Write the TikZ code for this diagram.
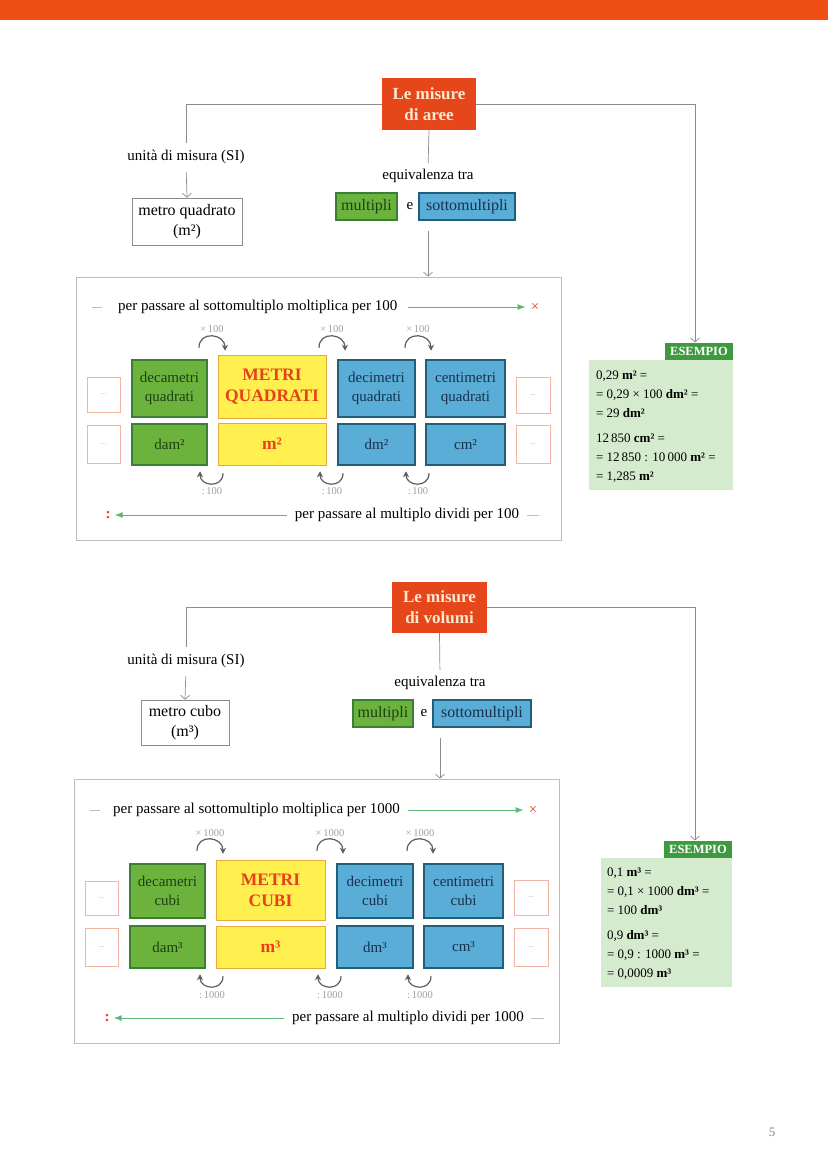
\documentclass[tikz,border=0pt]{standalone}
\usepackage{fontspec}
\setmainfont{Liberation Serif}
\usetikzlibrary{arrows.meta}
\definecolor{orangebar}{HTML}{EF4F14}
\definecolor{titlered}{HTML}{E6471A}
\definecolor{titletext}{HTML}{FCE8CF}
\definecolor{greenfill}{HTML}{6CB33E}
\definecolor{greenline}{HTML}{3B7F35}
\definecolor{greentext}{HTML}{1E3F14}
\definecolor{yellowfill}{HTML}{FFEF4F}
\definecolor{yellowline}{HTML}{E7A93A}
\definecolor{redtext}{HTML}{E8401C}
\definecolor{bluefill}{HTML}{5AADD6}
\definecolor{blueline}{HTML}{1F5F78}
\definecolor{bluetext}{HTML}{18304D}
\definecolor{dotline}{HTML}{F0B5A0}
\definecolor{linegray}{HTML}{8C8C8C}
\definecolor{boxgray}{HTML}{B8BEC4}
\definecolor{arrowgreen}{HTML}{5CB87A}
\definecolor{esgreen}{HTML}{3E9A3F}
\definecolor{exfill}{HTML}{D4ECCD}
\definecolor{labelgray}{HTML}{A0A0A0}
\definecolor{arcgray}{HTML}{5E5E5E}
\newcommand{\txt}{\fontsize{15}{19}\selectfont}
\newcommand{\bigtxt}{\fontsize{16}{20}\selectfont}

\begin{document}
\begin{tikzpicture}[x=1pt,y=1pt]
\tikzset{every node/.style={inner sep=0pt,align=center,font=\txt},
titlebox/.style={fill=titlered,text=titletext,font=\fontsize{17}{21}\selectfont\bfseries},
unitbox/.style={draw=linegray,line width=0.6pt,fill=white,font=\bigtxt},
multbox/.style={draw=greenline,fill=greenfill,text=greentext,line width=1.2pt},
yelbox/.style={draw=yellowline,fill=yellowfill,text=redtext,line width=0.8pt,font=\fontsize{17.5}{21}\selectfont\bfseries},
subbox/.style={draw=blueline,fill=bluefill,text=bluetext,line width=1.2pt},
dotbox/.style={draw=dotline,fill=white,line width=0.8pt,text=labelgray,font=\fontsize{7}{8}\selectfont},
mainbox/.style={draw=boxgray,line width=0.8pt},
estab/.style={fill=esgreen,text=white,font=\fontsize{12.5}{13}\selectfont\bfseries,minimum width=68,minimum height=17},
exbox/.style={fill=exfill},
extext/.style={align=left,font=\fontsize{13}{18.7}\selectfont},
oplabel/.style={text=labelgray,font=\fontsize{10.5}{11}\selectfont},
conn/.style={draw=linegray,line width=0.7pt},
arr/.style={conn,-{Straight Barb[length=4pt,width=9pt]}},
greenarr/.style={draw=arrowgreen,line width=0.9pt,-{Latex[length=8pt,width=6pt]}},
arcarr/.style={draw=arcgray,line width=1.2pt,-{Stealth[length=6pt,width=6pt]}}}

\useasboundingbox[fill=white] (0,0) rectangle (828,-1173);
\fill[orangebar] (0,0) rectangle (828,-20);

\node[mainbox,minimum width=485,minimum height=263] (main1) at (318.5,-408.5) {};
\node[titlebox,minimum width=94,minimum height=52] (t1) at (429,-104) {Le misure\\di aree};
\node (si1) at (186,-157) {unità di misura (SI)};
\node[unitbox,minimum width=110,minimum height=47] (mq1) at (187,-221.5) {metro quadrato\\(m²)};
\node (eq1) at (428,-176) {equivalenza tra};
\node[multbox,minimum width=61,minimum height=27,font=\bigtxt] (mu1) at (366.5,-206.5) {multipli};
\node (e1) at (410,-206) {e};
\node[subbox,minimum width=96,minimum height=27,font=\bigtxt] (sm1) at (467,-206.5) {sottomultipli};
\draw[conn,shorten >=7pt] (t1.west) -| (si1.north);
\draw[arr,shorten <=8pt] (si1.south) -- (mq1.north);
\draw[conn,shorten >=6pt] (t1.south) -- (eq1.north);
\draw[arr] ([yshift=-10pt]eq1.south |- sm1.south) -- (eq1.south |- main1.north);

\node[anchor=west] (pt1) at (118,-307) {per passare al sottomultiplo moltiplica per 100};
\node[text=redtext,font=\fontsize{15}{15}\selectfont] (x1) at (535,-307) {×};
\draw[conn,draw=boxgray] ([xshift=-26pt]pt1.west) -- ([xshift=-16pt]pt1.west);
\draw[greenarr] ([xshift=10pt]pt1.east) -- ([xshift=-5pt]x1.west);

\node[dotbox,minimum width=33,minimum height=35] (dla) at (103.5,-394.5) {...};
\node[multbox,minimum width=75,minimum height=57] (ga) at (169.5,-388.5) {decametri\\quadrati};
\node[yelbox,minimum width=108,minimum height=63] (ya) at (272,-386.5) {METRI\\QUADRATI};
\node[subbox,minimum width=77,minimum height=57] (ba) at (376.5,-388.5) {decimetri\\quadrati};
\node[subbox,minimum width=79,minimum height=57] (ca) at (465.5,-388.5) {centimetri\\quadrati};
\node[dotbox,minimum width=34,minimum height=36] (dra) at (533,-395) {...};
\node[dotbox,minimum width=33,minimum height=38] (dlb) at (103.5,-444) {...};
\node[multbox,minimum width=75,minimum height=41] (gb) at (169.5,-444.5) {dam²};
\node[yelbox,minimum width=108,minimum height=42] (yb) at (272,-444) {m²};
\node[subbox,minimum width=77,minimum height=41] (bb) at (376.5,-444.5) {dm²};
\node[subbox,minimum width=79,minimum height=41] (cb) at (465.5,-444.5) {cm²};
\node[dotbox,minimum width=34,minimum height=38] (drb) at (533,-444.5) {...};

\node[oplabel] (ma1) at (212,-329) {×\,100};
\node[oplabel] (ma2) at (332,-329) {×\,100};
\node[oplabel] (ma3) at (418,-329) {×\,100};
\draw[arcarr] ([shift={(-13,-15)}]ma1.south) to[out=90,in=90,looseness=1.7] ([shift={(13,-18)}]ma1.south);
\draw[arcarr] ([shift={(-13,-15)}]ma2.south) to[out=90,in=90,looseness=1.7] ([shift={(13,-18)}]ma2.south);
\draw[arcarr] ([shift={(-13,-15)}]ma3.south) to[out=90,in=90,looseness=1.7] ([shift={(13,-18)}]ma3.south);
\node[oplabel] (da1) at (212,-491) {:\,100};
\node[oplabel] (da2) at (332,-491) {:\,100};
\node[oplabel] (da3) at (418,-491) {:\,100};
\draw[arcarr] ([shift={(11,14)}]da1.north) to[out=-90,in=-90,looseness=1.7] ([shift={(-12,16)}]da1.north);
\draw[arcarr] ([shift={(11,14)}]da2.north) to[out=-90,in=-90,looseness=1.7] ([shift={(-12,16)}]da2.north);
\draw[arcarr] ([shift={(11,14)}]da3.north) to[out=-90,in=-90,looseness=1.7] ([shift={(-12,16)}]da3.north);

\node[text=redtext,font=\fontsize{15}{15}\selectfont\bfseries] (col1) at (108,-515) {:};
\node (pm1) at (407,-515) {per passare al multiplo dividi per 100};
\draw[greenarr] ([xshift=-8pt]pm1.west) -- ([xshift=4pt]col1.east);
\draw[conn,draw=boxgray] ([xshift=8pt]pm1.east) -- ([xshift=20pt]pm1.east);

\node[exbox,minimum width=144,minimum height=130] (ex1) at (661,-425) {};
\node[estab,anchor=south east] (es1) at (ex1.north east) {ESEMPIO};
\draw[arr] (t1.east) -| ([xshift=-4pt]es1.north);
\node[extext,anchor=north west] (et1) at ([shift={(7,-11)}]ex1.north west) {0,29 \textbf{m²} =\\= 0,29 × 100 \textbf{dm²} =\\= 29 \textbf{dm²}\\[7pt]12\,850 \textbf{cm²} =\\= 12\,850 : 10\,000 \textbf{m²} =\\= 1,285 \textbf{m²}};

\node[mainbox,minimum width=485,minimum height=264] (main2) at (316.5,-911) {};
\node[titlebox,minimum width=95,minimum height=51] (t2) at (439.5,-607.5) {Le misure\\di volumi};
\node (si2) at (186,-661) {unità di misura (SI)};
\node[unitbox,minimum width=88,minimum height=45] (mc2) at (185,-722.5) {metro cubo\\(m³)};
\node (eq2) at (440,-683) {equivalenza tra};
\node[multbox,minimum width=60,minimum height=27,font=\bigtxt] (mu2) at (383,-713.5) {multipli};
\node (e2) at (424,-713) {e};
\node[subbox,minimum width=98,minimum height=27,font=\bigtxt] (sm2) at (482,-713.5) {sottomultipli};
\draw[conn,shorten >=7pt] (t2.west) -| (si2.north);
\draw[arr,shorten <=8pt] (si2.south) -- (mc2.north);
\draw[conn,shorten >=6pt] (t2.south) -- (eq2.north);
\draw[arr] ([yshift=-10pt]eq2.south |- sm2.south) -- (eq2.south |- main2.north);

\node[anchor=west] (pt2) at (113,-810) {per passare al sottomultiplo moltiplica per 1000};
\node[text=redtext,font=\fontsize{15}{15}\selectfont] (x2) at (533,-810) {×};
\draw[conn,draw=boxgray] ([xshift=-23pt]pt2.west) -- ([xshift=-13pt]pt2.west);
\draw[greenarr] ([xshift=8pt]pt2.east) -- ([xshift=-5pt]x2.west);

\node[dotbox,minimum width=33,minimum height=34] (dlc) at (101.5,-898) {...};
\node[multbox,minimum width=75,minimum height=54] (gc) at (167.5,-891) {decametri\\cubi};
\node[yelbox,minimum width=109,minimum height=60] (yc) at (270.5,-890) {METRI\\CUBI};
\node[subbox,minimum width=76,minimum height=54] (bc) at (375,-891) {decimetri\\cubi};
\node[subbox,minimum width=79,minimum height=54] (cc) at (463.5,-891) {centimetri\\cubi};
\node[dotbox,minimum width=34,minimum height=35] (drc) at (531,-897.5) {...};
\node[dotbox,minimum width=33,minimum height=38] (dld) at (101.5,-947) {...};
\node[multbox,minimum width=75,minimum height=42] (gd) at (167.5,-947) {dam³};
\node[yelbox,minimum width=109,minimum height=42] (yd) at (270.5,-947) {m³};
\node[subbox,minimum width=76,minimum height=42] (bd) at (375,-947) {dm³};
\node[subbox,minimum width=79,minimum height=42] (cd) at (463.5,-947) {cm³};
\node[dotbox,minimum width=34,minimum height=38] (drd) at (531,-947) {...};

\node[oplabel] (mv1) at (210,-833) {×\,1000};
\node[oplabel] (mv2) at (330,-833) {×\,1000};
\node[oplabel] (mv3) at (420,-833) {×\,1000};
\draw[arcarr] ([shift={(-13,-14)}]mv1.south) to[out=90,in=90,looseness=1.7] ([shift={(13,-17)}]mv1.south);
\draw[arcarr] ([shift={(-13,-14)}]mv2.south) to[out=90,in=90,looseness=1.7] ([shift={(13,-17)}]mv2.south);
\draw[arcarr] ([shift={(-13,-14)}]mv3.south) to[out=90,in=90,looseness=1.7] ([shift={(13,-17)}]mv3.south);
\node[oplabel] (dv1) at (212,-995) {:\,1000};
\node[oplabel] (dv2) at (330,-995) {:\,1000};
\node[oplabel] (dv3) at (420,-995) {:\,1000};
\draw[arcarr] ([shift={(11,15)}]dv1.north) to[out=-90,in=-90,looseness=1.7] ([shift={(-12,17)}]dv1.north);
\draw[arcarr] ([shift={(11,15)}]dv2.north) to[out=-90,in=-90,looseness=1.7] ([shift={(-12,17)}]dv2.north);
\draw[arcarr] ([shift={(11,15)}]dv3.north) to[out=-90,in=-90,looseness=1.7] ([shift={(-12,17)}]dv3.north);

\node[text=redtext,font=\fontsize{15}{15}\selectfont\bfseries] (col2) at (107,-1018) {:};
\node (pm2) at (408,-1018) {per passare al multiplo dividi per 1000};
\draw[greenarr] ([xshift=-8pt]pm2.west) -- ([xshift=4pt]col2.east);
\draw[conn,draw=boxgray] ([xshift=7pt]pm2.east) -- ([xshift=20pt]pm2.east);

\node[exbox,minimum width=131,minimum height=129] (ex2) at (666.5,-922.5) {};
\node[estab,anchor=south east] (es2) at (ex2.north east) {ESEMPIO};
\draw[arr] (t2.east) -| ([xshift=-3pt]es2.north);
\node[extext,anchor=north west] (et2) at ([shift={(6,-10)}]ex2.north west) {0,1 \textbf{m³} =\\= 0,1 × 1000 \textbf{dm³} =\\= 100 \textbf{dm³}\\[7pt]0,9 \textbf{dm³} =\\= 0,9 : 1000 \textbf{m³} =\\= 0,0009 \textbf{m³}};

\node[text=linegray,font=\fontsize{13}{14}\selectfont] (pg) at (772,-1132) {5};
\end{tikzpicture}
\end{document}
